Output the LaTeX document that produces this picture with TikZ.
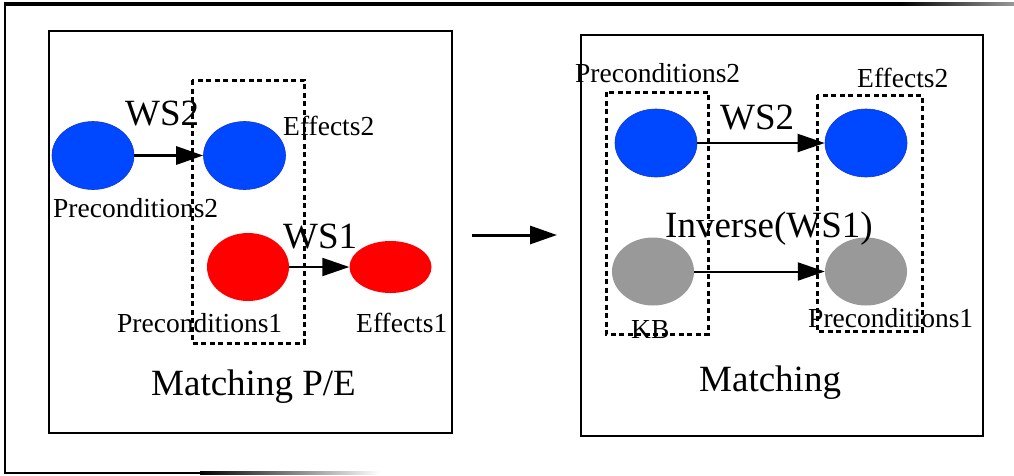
\documentclass[tikz,border=0pt]{standalone}
\usepackage{fontspec}
\setmainfont{Liberation Serif}
\usetikzlibrary{shapes.geometric,arrows.meta}
\definecolor{bl}{RGB}{0,72,255}
\definecolor{bld}{RGB}{20,50,220}
\definecolor{gr}{RGB}{153,153,153}
\begin{document}
\begin{tikzpicture}[x=1pt,y=-1pt,
  ell/.style={ellipse, minimum width=82pt, minimum height=68pt, inner sep=0pt},
  blueell/.style={ell, fill=bl, draw=bld, line width=0.6pt},
  redell/.style={ell, fill=red},
  grayell/.style={ell, fill=gr},
  small/.style={font=\fontsize{27.5}{33}\selectfont, inner sep=0pt, anchor=base west},
  big/.style={font=\fontsize{37}{44}\selectfont, inner sep=0pt, anchor=base west},
  conn/.style={line width=2pt, -{Triangle[length=27pt,width=18pt]}},
  panel/.style={draw, line width=1.6pt},
  dbox/.style={draw, line width=3pt, dash pattern=on 5pt off 3.5pt}]
\useasboundingbox (0,0) rectangle (1014,475);
% outer frame
\fill[black] (4,2) rectangle (900,5.5);
\shade[left color=black, right color=black!40] (900,2) rectangle (1014,5.5);
\fill[black] (4,2) rectangle (6,474);
\fill[black] (4,471.5) rectangle (200,474);
\shade[left color=black, right color=white] (200,471.5) rectangle (380,474);
% panels
\draw[panel] (49,31) rectangle (452,433);
\draw[panel] (581,35) rectangle (983,436);
% left panel
\node[blueell] (p2) at (93,155.5) {};
\node[blueell] (e2) at (244.5,155.5) {};
\node[redell] (p1) at (248,267) {};
\node[redell, minimum height=52pt] (e1) at (390.5,267) {};
\draw[conn, line width=3pt] (p2) -- (e2);
\draw[conn] (p1) -- (e1);
\node[big] (ws2l) at (125,125) {WS2};
\node[small] (p2l) at (53,217) {Preconditions2};
\node[small] (e2l) at (283,135) {Effects2};
\node[big] (ws1l) at (283,248) {WS1};
\node[small] (p1l) at (117,332) {Preconditions1};
\node[small] (e1l) at (356,332) {Effects1};
\node[big] (mpe) at (151,395) {Matching P/E};
\draw[dbox] (192,80) rectangle (304,343);
% middle arrow
\coordinate (m1) at (472,235);
\coordinate (m2) at (557,235);
\draw[conn, line width=3pt] (m1) -- (m2);
% right panel
\node[blueell] (rp2) at (656,143) {};
\node[blueell] (re2) at (866,143) {};
\node[grayell] (kb) at (653,271.5) {};
\node[grayell] (rp1) at (866,271.5) {};
\draw[conn] (rp2) -- (re2);
\draw[conn] (kb) -- (rp1);
\node[small] (rp2l) at (575,82) {Preconditions2};
\node[small] (re2l) at (857,87) {Effects2};
\node[big] (ws2r) at (720,129) {WS2};
\node[big] (inv) at (665,237) {Inverse(WS1)};
\node[small] (kbl) at (631,338) {KB};
\node[small] (rp1l) at (808,327) {Preconditions1};
\node[big] (mr) at (699,391) {Matching};
\draw[dbox] (606,92) rectangle (708,334);
\draw[dbox] (817,95) rectangle (922,331);
\end{tikzpicture}
\end{document}
